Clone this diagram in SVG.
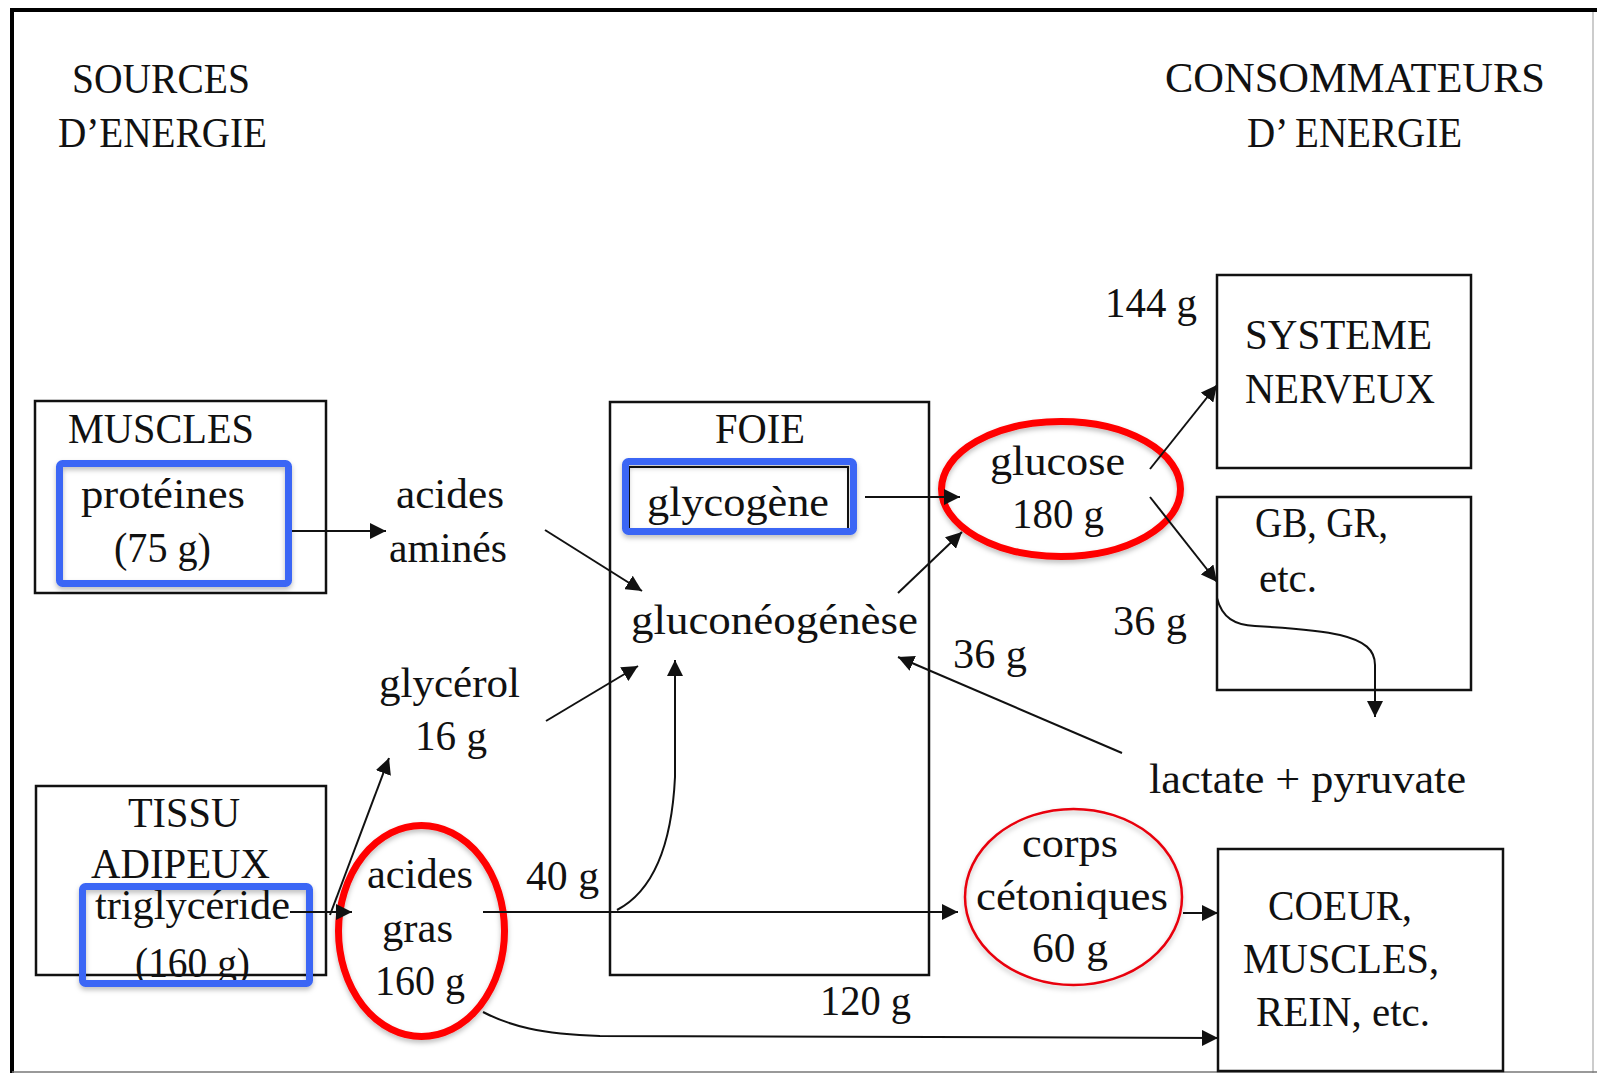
<svg xmlns="http://www.w3.org/2000/svg" width="1597" height="1073" viewBox="0 0 1597 1073">
<style>
text{font-family:"Liberation Serif","Times New Roman",serif;font-size:42px;fill:#111}
.box{fill:none;stroke:#111;stroke-width:2.5}
.blue{fill:none;stroke:#3a66f5;stroke-width:7}
.red{fill:none;stroke:#f00;stroke-width:7}
.thinred{fill:none;stroke:#e8000b;stroke-width:2.5}
.con{fill:none;stroke:#111;stroke-width:2;marker-end:url(#ah)}
.line{fill:none;stroke:#111;stroke-width:2}
</style>
<defs>
<marker id="ah" markerUnits="userSpaceOnUse" markerWidth="18" markerHeight="16" refX="16" refY="8" orient="auto">
<path d="M0,0 L16,8 L0,16 z" fill="#111"/>
</marker>
<filter id="sh" x="-10%" y="-10%" width="120%" height="130%">
<feDropShadow dx="0" dy="3" stdDeviation="2.5" flood-color="#000" flood-opacity="0.25"/>
</filter>
</defs>
<rect width="1597" height="1073" fill="#fff"/>
<g id="frame">
<line x1="10" y1="10" x2="1597" y2="10" stroke="#000" stroke-width="4"/>
<line x1="12" y1="8" x2="12" y2="1073" stroke="#000" stroke-width="4"/>
<line x1="1593" y1="12" x2="1593" y2="1073" stroke="#bbb" stroke-width="1.5"/>
<line x1="12" y1="1072" x2="1597" y2="1072" stroke="#777" stroke-width="1.5"/>
</g>
<g id="titles">
<text x="72" y="93" textLength="178" lengthAdjust="spacingAndGlyphs">SOURCES</text>
<text x="58" y="147" textLength="209" lengthAdjust="spacingAndGlyphs">D’ENERGIE</text>
<text x="1165" y="92" textLength="380" lengthAdjust="spacingAndGlyphs">CONSOMMATEURS</text>
<text x="1247" y="147" textLength="215" lengthAdjust="spacingAndGlyphs">D’ ENERGIE</text>
</g>
<g id="muscles">
<rect class="box" x="35" y="401" width="291" height="192"/>
<text x="68" y="443" textLength="186" lengthAdjust="spacingAndGlyphs">MUSCLES</text>
<text x="81" y="508" textLength="164" lengthAdjust="spacingAndGlyphs">protéines</text>
<text x="114" y="562" textLength="97" lengthAdjust="spacingAndGlyphs">(75 g)</text>
<rect class="blue" x="59.5" y="463.5" width="229" height="120" rx="3" filter="url(#sh)"/>
</g>
<g id="acides-amines">
<text x="396" y="508" textLength="108" lengthAdjust="spacingAndGlyphs">acides</text>
<text x="389" y="562" textLength="118" lengthAdjust="spacingAndGlyphs">aminés</text>
</g>
<g id="foie">
<rect class="box" x="610" y="402" width="319" height="573"/>
<text x="715" y="443" textLength="90" lengthAdjust="spacingAndGlyphs">FOIE</text>
<path class="line" d="M629,531 V467 H848 V531" stroke-width="2.5"/>
<text x="647" y="516" textLength="182" lengthAdjust="spacingAndGlyphs">glycogène</text>
<rect class="blue" x="625.5" y="461.5" width="228" height="70" rx="3" filter="url(#sh)"/>
<text x="631" y="634" textLength="287" lengthAdjust="spacingAndGlyphs">gluconéogénèse</text>
</g>
<g id="glucose">
<ellipse class="red" cx="1061" cy="489" rx="119.5" ry="67.5" filter="url(#sh)"/>
<text x="990" y="475" textLength="135" lengthAdjust="spacingAndGlyphs">glucose</text>
<text x="1012" y="528" textLength="92" lengthAdjust="spacingAndGlyphs">180 g</text>
</g>
<g id="systeme-nerveux">
<rect class="box" x="1217" y="275" width="254" height="193"/>
<text x="1245" y="349" textLength="187" lengthAdjust="spacingAndGlyphs">SYSTEME</text>
<text x="1245" y="403" textLength="190" lengthAdjust="spacingAndGlyphs">NERVEUX</text>
</g>
<g id="gb-gr">
<rect class="box" x="1217" y="497" width="254" height="193"/>
<text x="1255" y="537" textLength="133" lengthAdjust="spacingAndGlyphs">GB, GR,</text>
<text x="1259" y="592" textLength="58" lengthAdjust="spacingAndGlyphs">etc.</text>
</g>
<g id="lactate">
<text x="1149" y="793" textLength="317" lengthAdjust="spacingAndGlyphs">lactate + pyruvate</text>
</g>
<g id="glycerol">
<text x="379" y="697" textLength="141" lengthAdjust="spacingAndGlyphs">glycérol</text>
<text x="415" y="750" textLength="72" lengthAdjust="spacingAndGlyphs">16 g</text>
</g>
<g id="tissu-adipeux">
<rect class="box" x="36" y="786" width="290" height="189"/>
<text x="128" y="827" textLength="112" lengthAdjust="spacingAndGlyphs">TISSU</text>
<text x="91" y="878" textLength="179" lengthAdjust="spacingAndGlyphs">ADIPEUX</text>
<text x="95" y="919" textLength="195" lengthAdjust="spacingAndGlyphs">triglycéride</text>
<text x="135" y="977" textLength="115" lengthAdjust="spacingAndGlyphs">(160 g)</text>
<rect class="blue" x="82.5" y="886.5" width="227" height="97" rx="3" filter="url(#sh)"/>
</g>
<g id="acides-gras">
<ellipse class="red" cx="421.5" cy="931" rx="83" ry="105.5" filter="url(#sh)"/>
<text x="367" y="888" textLength="106" lengthAdjust="spacingAndGlyphs">acides</text>
<text x="382" y="942" textLength="71" lengthAdjust="spacingAndGlyphs">gras</text>
<text x="375" y="995" textLength="90" lengthAdjust="spacingAndGlyphs">160 g</text>
</g>
<g id="corps-cetoniques">
<ellipse class="thinred" cx="1073.5" cy="897" rx="108.5" ry="88" filter="url(#sh)"/>
<text x="1022" y="857" textLength="96" lengthAdjust="spacingAndGlyphs">corps</text>
<text x="976" y="910" textLength="192" lengthAdjust="spacingAndGlyphs">cétoniques</text>
<text x="1032" y="962" textLength="76" lengthAdjust="spacingAndGlyphs">60 g</text>
</g>
<g id="coeur">
<rect class="box" x="1218" y="849" width="285" height="222"/>
<text x="1268" y="920" textLength="144" lengthAdjust="spacingAndGlyphs">COEUR,</text>
<text x="1243" y="973" textLength="196" lengthAdjust="spacingAndGlyphs">MUSCLES,</text>
<text x="1256" y="1026" textLength="174" lengthAdjust="spacingAndGlyphs">REIN, etc.</text>
</g>
<g id="connectors">
<path class="con" d="M292,531 L386,531"/>
<path class="con" d="M545,530 L642,591"/>
<path class="con" d="M546,721 L638,666"/>
<path class="con" d="M617,910 C655,890 672,840 675,777 L675,660"/>
<path class="con" d="M865,497 L960,497"/>
<path class="con" d="M898,593 L962,532"/>
<path class="con" d="M1122,753 L898,657"/>
<path class="con" d="M1150,469 L1217,385"/>
<path class="con" d="M1150,497 L1217,582"/>
<path class="con" d="M1217,598 C1222,618 1235,625 1255,626 C1290,628 1320,630 1340,635 C1365,641 1375,650 1375,665 L1375,717"/>
<path class="con" d="M290,912 L352,912"/>
<path class="con" d="M330,915 L389,758"/>
<path class="con" d="M483,912 L958,912"/>
<path class="con" d="M1183,913 L1218,913"/>
<path class="con" d="M483,1012 C510,1026 540,1034 600,1036 L1218,1038"/>
<text x="526" y="890" textLength="73" lengthAdjust="spacingAndGlyphs">40 g</text>
<text x="820" y="1015" textLength="91" lengthAdjust="spacingAndGlyphs">120 g</text>
<text x="1105" y="317" textLength="92" lengthAdjust="spacingAndGlyphs">144 g</text>
<text x="1113" y="635" textLength="74" lengthAdjust="spacingAndGlyphs">36 g</text>
<text x="953" y="668" textLength="74" lengthAdjust="spacingAndGlyphs">36 g</text>
</g>
</svg>
